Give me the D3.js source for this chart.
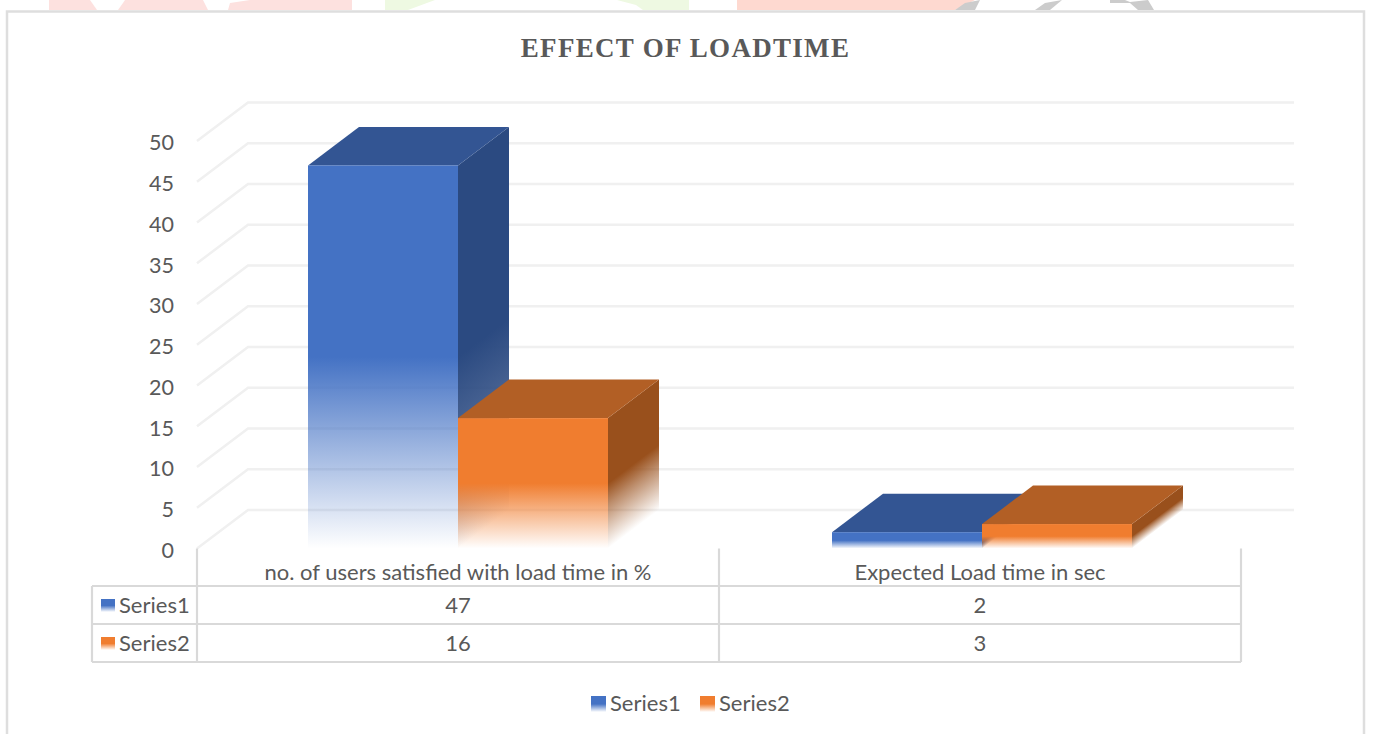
<!DOCTYPE html>
<html><head><meta charset="utf-8">
<script src="https://cdnjs.cloudflare.com/ajax/libs/d3/7.8.5/d3.min.js"></script>
<style>
html,body{margin:0;padding:0;background:#fff;overflow:hidden}
text{font-family:Lato,"Open Sans",sans-serif;fill:#595959}
</style></head><body><div id="c"></div>
<script>
const titleText = "EFFECT OF LOADTIME";
const categories = ["no. of users satisfied with load time in %", "Expected Load time in sec"];
const seriesNames = ["Series1", "Series2"];
const series1 = [47, 2];
const series2 = [16, 3];
const tickValues = [0, 5, 10, 15, 20, 25, 30, 35, 40, 45, 50];
const palette = {
  Series1: {front: "#4472c4", top: "#335593", side: "#2b4a81", sideMid: .88},
  Series2: {front: "#f07d2f", top: "#b25f25", side: "#99501c", sideMid: .66}
};
const seriesValues = [series1, series2];

const W = 1376, H = 734;
const svg = d3.select("#c").append("svg").attr("width", W).attr("height", H).style("display", "block");
const defs = svg.append("defs");

// watermark fragments visible above the chart frame
const scraps = [
  ["#fde1df", "49,0 90,0 97,10 49,10"], ["#fde1df", "118,10 123,3 125,0 203,0 208,10"],
  ["#fde1df", "228,10 230,3 250,0 352,0 352,10"],
  ["#eef9e2", "385,10 385,0 435,0 408,10"], ["#eef9e2", "617,0 689,0 689,10 643,10 636,5"],
  ["#fed9d0", "737,0 975,0 955,10 737,10"],
  ["#cccccc", "955,10 965,3 980,0 975,10"], ["#cccccc", "1035,10 1045,3 1062,0 1050,10"],
  ["#cccccc", "1110,0 1125,0 1130,2 1148,0 1154,10 1138,10 1130,3 1110,3"]
];
svg.append("g").selectAll("polygon").data(scraps).join("polygon")
  .attr("fill", d => d[0]).attr("points", d => d[1]);

// frame
svg.append("path").attr("d", "M7,734V11.5H1364V734").attr("fill", "#fff")
  .attr("stroke", "#dedede").attr("stroke-width", 2.5);

svg.append("text").text(titleText).attr("x", 685.5).attr("y", 57).attr("text-anchor", "middle")
  .style("font-family", "'Liberation Serif',serif").style("font-weight", 700).style("font-size", "27px")
  .style("letter-spacing", "1.3px");

const y = d3.scaleLinear().domain([0, 50]).range([548.5, 141]);
const x0 = d3.scaleBand().domain(categories).range([197, 1241]);
const x1 = d3.scaleBand().domain(seriesNames)
  .range([x0.bandwidth() / 2 - 150, x0.bandwidth() / 2 + 150]);
const groupShift = [0, 2];
const depthX = 51, depthY = 38.5;
const right = 1294;

// gridlines with floor-side diagonals
svg.append("g").selectAll("path").data(tickValues).join("path")
  .attr("fill", "none").attr("stroke", "#f0f0f0").attr("stroke-width", 2.5)
  .attr("d", d => `M${x0.range()[0]},${y(d)}l${depthX},${-depthY}H${right}`);

// value axis labels
const axis = svg.append("g").attr("transform", "translate(197,2)")
  .call(d3.axisLeft(y).tickValues(tickValues).tickSize(0).tickPadding(23));
axis.select(".domain").remove();
axis.selectAll("text").style("font-family", "Lato").style("font-size", "21.5px").attr("fill", "#595959");

// fade gradients
function addStop(g, offset, color, opacity) {
  g.append("stop").attr("offset", offset).attr("stop-color", color).attr("stop-opacity", opacity);
}
function fadeStops(g, color, midOpacity) {
  addStop(g, 0, color, 1);
  addStop(g, .5, color, 1);
  addStop(g, .66, color, midOpacity);
  addStop(g, 1, color, 0);
}
seriesNames.forEach(s => {
  const g = defs.append("linearGradient").attr("id", "front-" + s)
    .attr("x1", 0).attr("x2", 0).attr("y1", 0).attr("y2", 1);
  fadeStops(g, palette[s].front, .68);
});

const plot = svg.append("g");
const norm = Math.hypot(depthX, depthY);
seriesNames.forEach((s, si) => {
  categories.forEach((c, ci) => {
    const v = seriesValues[si][ci];
    const xa = x0(c) + x1(s) + groupShift[ci], xb = xa + x1.bandwidth();
    const yt = y(v), yb = y(0), h = yb - yt;
    const g = plot.append("g");
    const id = `side-${si}-${ci}`;
    const L = h * depthX / norm;
    const grad = defs.append("linearGradient").attr("id", id).attr("gradientUnits", "userSpaceOnUse")
      .attr("x2", xb).attr("y2", yb)
      .attr("x1", xb - depthY / norm * L).attr("y1", yb - depthX / norm * L);
    fadeStops(grad, palette[s].side, palette[s].sideMid);
    g.append("path").attr("fill", `url(#${id})`)
      .attr("d", `M${xb},${yt}l${depthX},${-depthY}V${yb - depthY}L${xb},${yb}Z`);
    g.append("path").attr("fill", palette[s].top)
      .attr("d", `M${xa},${yt}l${depthX},${-depthY}H${xb + depthX}L${xb},${yt}Z`);
    g.append("rect").attr("x", xa).attr("y", yt).attr("width", xb - xa).attr("height", h)
      .attr("fill", `url(#front-${s})`);
  });
});

// data table
const rowY = [586, 624, 662];
const bounds = x0.domain().map(c => x0(c)).concat(x0.range()[1]);
const tableX = 92;
const rule = svg.append("g").attr("stroke", "#d9d9d9").attr("stroke-width", 2.2).attr("fill", "none");
rowY.forEach(v => rule.append("line").attr("x1", tableX).attr("x2", bounds[2]).attr("y1", v).attr("y2", v));
bounds.forEach(b => rule.append("line").attr("x1", b).attr("x2", b).attr("y1", y(0)).attr("y2", rowY[2]));
rule.append("line").attr("x1", tableX).attr("x2", tableX).attr("y1", rowY[0]).attr("y2", rowY[2]);

const fs = "22px";
svg.append("g").selectAll("text").data(categories).join("text").text(d => d)
  .attr("x", d => x0(d) + x0.bandwidth() / 2).attr("y", 580).attr("text-anchor", "middle").style("font-size", fs);

seriesNames.forEach((s, si) => {
  const base = rowY[si] + 27;
  svg.append("rect").attr("x", 101).attr("y", base - 14).attr("width", 14).attr("height", 13).attr("fill", `url(#front-${s})`);
  svg.append("text").text(s).attr("x", 119).attr("y", base).style("font-size", fs);
  categories.forEach((c, ci) => {
    svg.append("text").text(seriesValues[si][ci]).attr("x", x0(c) + x0.bandwidth() / 2).attr("y", base)
      .attr("text-anchor", "middle").style("font-size", fs);
  });
});

// legend
const legendX = [591, 700];
seriesNames.forEach((s, i) => {
  svg.append("rect").attr("x", legendX[i]).attr("y", 696).attr("width", 15).attr("height", 16).attr("fill", `url(#front-${s})`);
  svg.append("text").text(s).attr("x", legendX[i] + 19).attr("y", 711).style("font-size", fs);
});
</script></body></html>
